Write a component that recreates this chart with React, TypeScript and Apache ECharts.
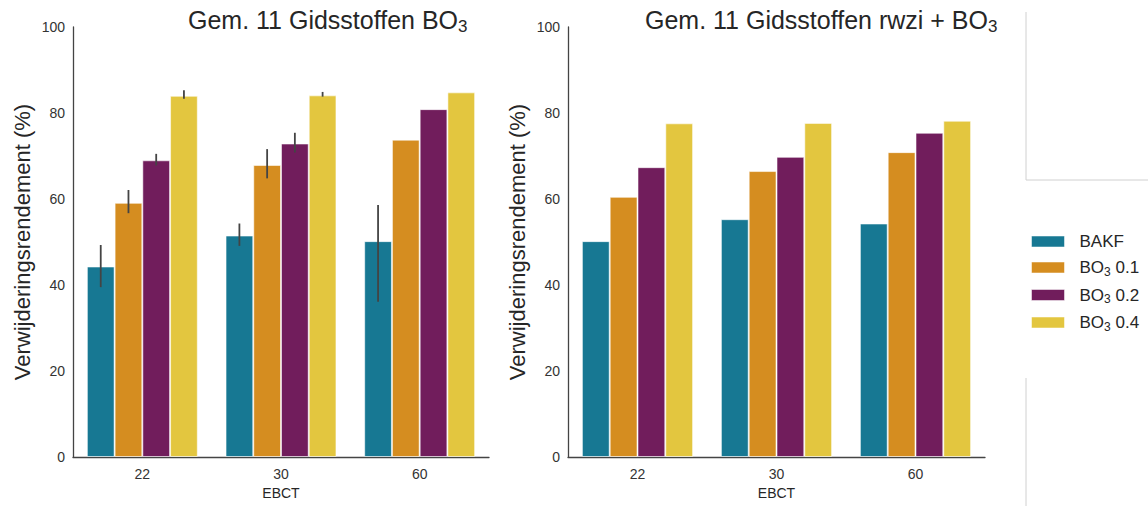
import React, { useEffect, useRef } from "react";
import * as echarts from "echarts";

// EBCT categories and series names
const categories = ["22", "30", "60"];
const seriesNames = ["BAKF", "BO3 0.1", "BO3 0.2", "BO3 0.4"];
const colors = ["#177893", "#d58d20", "#711d5c", "#e3c63f"];

// Left panel: Gem. 11 Gidsstoffen BO3 (mean removal, %)
const bakfLeft = [44.3, 51.5, 50.2];
const bo01Left = [59.1, 67.9, 73.8];
const bo02Left = [69.0, 72.9, 80.9];
const bo04Left = [84.0, 84.1, 84.8];

// Left panel error ranges [low, high] per category (null = none)
const bakfLeftErr = [[39.5, 49.3], [49.1, 54.3], [36.1, 58.6]];
const bo01LeftErr = [[56.7, 62.1], [64.8, 71.6], null];
const bo02LeftErr = [[67.8, 70.5], [70.8, 75.4], null];
const bo04LeftErr = [[83.3, 85.3], [83.8, 84.9], null];

// Right panel: Gem. 11 Gidsstoffen rwzi + BO3
const bakfRight = [50.2, 55.3, 54.3];
const bo01Right = [60.5, 66.5, 70.9];
const bo02Right = [67.4, 69.8, 75.4];
const bo04Right = [77.6, 77.7, 78.2];

// Y axis ticks
const yMin = 0;
const yMax = 100;
const yInterval = 20;

const FONT = "'Liberation Sans', Arial, Helvetica, sans-serif";
const TEXT = "#262626";

export default function App() {
  const ref = useRef<HTMLDivElement>(null);

  useEffect(() => {
    if (!ref.current) return;
    const chart = echarts.init(ref.current, undefined, { renderer: "svg" });

    const leftVals = [bakfLeft, bo01Left, bo02Left, bo04Left];
    const rightVals = [bakfRight, bo01Right, bo02Right, bo04Right];
    const leftErrs = [bakfLeftErr, bo01LeftErr, bo02LeftErr, bo04LeftErr];

    const errData: number[][] = [];
    leftErrs.forEach((arr, s) => {
      arr.forEach((e, c) => {
        if (e) errData.push([c, e[0], e[1], s]);
      });
    });

    const barSeries = (vals: number[][], axisIdx: number) =>
      vals.map((v, i) => ({
        type: "bar",
        name: seriesNames[i],
        xAxisIndex: axisIdx,
        yAxisIndex: axisIdx,
        data: v,
        barGap: "0%",
        barCategoryGap: "20%",
        itemStyle: {
          color: colors[i],
          borderColor: "rgba(255,255,255,0.55)",
          borderWidth: 1,
        },
      }));

    const xAxis = (gridIndex: number) => ({
      type: "category",
      gridIndex,
      data: categories,
      name: "EBCT",
      nameLocation: "middle",
      nameGap: 27,
      nameTextStyle: { fontSize: 14, color: TEXT, fontFamily: FONT },
      axisLine: { lineStyle: { color: "#444", width: 1.3 } },
      axisTick: { show: false },
      axisLabel: { fontSize: 14, color: "#333", margin: 10, fontFamily: FONT },
    });

    const yAxis = (gridIndex: number) => ({
      type: "value",
      gridIndex,
      min: yMin,
      max: yMax,
      interval: yInterval,
      name: "Verwijderingsrendement (%)",
      nameLocation: "middle",
      nameGap: 40,
      nameTextStyle: { fontSize: 22, color: TEXT, fontFamily: FONT },
      axisLine: { show: true, lineStyle: { color: "#444", width: 1.3 } },
      axisTick: { show: false },
      splitLine: { show: false },
      axisLabel: { fontSize: 14, color: "#333", margin: 8, fontFamily: FONT },
    });

    const titleRich = {
      t: { fontSize: 25, lineHeight: 30, color: TEXT, fontFamily: FONT, fontWeight: "normal" },
      s: { fontSize: 17, lineHeight: 20, verticalAlign: "bottom", color: TEXT, fontFamily: FONT, fontWeight: "normal" },
    };

    chart.setOption({
      animation: false,
      backgroundColor: "#ffffff",
      title: [
        {
          text: "{t|Gem. 11 Gidsstoffen BO}{s|3}",
          left: 188,
          top: 5,
          padding: 0,
          textStyle: { fontWeight: "normal", rich: titleRich },
        },
        {
          text: "{t|Gem. 11 Gidsstoffen rwzi + BO}{s|3}",
          left: 645,
          top: 5,
          padding: 0,
          textStyle: { fontWeight: "normal", rich: titleRich },
        },
      ],
      legend: {
        data: seriesNames,
        orient: "vertical",
        left: 1031,
        top: 233,
        padding: 0,
        icon: "rect",
        itemWidth: 33,
        itemHeight: 11,
        itemGap: 9,
        formatter: (name: string) =>
          name.startsWith("BO3")
            ? `{n|BO}{s|3}{n|${name.slice(3)}}`
            : `{n|${name}}`,
        textStyle: {
          padding: [0, 0, 0, 10],
          rich: {
            n: { fontSize: 17, lineHeight: 20, color: TEXT, fontFamily: FONT },
            s: { fontSize: 12, lineHeight: 14, verticalAlign: "bottom", color: TEXT, fontFamily: FONT },
          },
        },
        itemStyle: { borderColor: "rgba(255,255,255,0.5)", borderWidth: 1 },
      },
      grid: [
        { left: 73, top: 27, width: 416, height: 430 },
        { left: 568, top: 27, width: 417, height: 430 },
      ],
      xAxis: [xAxis(0), xAxis(1)],
      yAxis: [yAxis(0), yAxis(1)],
      graphic: [
        { type: "line", shape: { x1: 1026, y1: 12, x2: 1026, y2: 180 }, style: { stroke: "#d0d0d0", lineWidth: 1 } },
        { type: "line", shape: { x1: 1026, y1: 180, x2: 1148, y2: 180 }, style: { stroke: "#d0d0d0", lineWidth: 1 } },
        { type: "line", shape: { x1: 1026, y1: 378, x2: 1026, y2: 506 }, style: { stroke: "#d0d0d0", lineWidth: 1 } },
      ],
      series: [
        ...barSeries(leftVals, 0),
        ...barSeries(rightVals, 1),
        {
          type: "custom",
          name: "err",
          xAxisIndex: 0,
          yAxisIndex: 0,
          z: 5,
          data: errData,
          encode: { x: 0, y: [1, 2] },
          renderItem: (_params: any, api: any) => {
            const c = api.value(0);
            const lo = api.value(1);
            const hi = api.value(2);
            const s = api.value(3);
            const pLo = api.coord([c, lo]);
            const pHi = api.coord([c, hi]);
            const band = api.size([1, 0])[0];
            const bw = (band * 0.8) / 4;
            const x = pLo[0] + (s - 1.5) * bw;
            return {
              type: "line",
              shape: { x1: x, y1: pLo[1], x2: x, y2: pHi[1] },
              style: { stroke: "#444444", lineWidth: 1.8 },
            };
          },
        },
      ],
    });

    return () => chart.dispose();
  }, []);

  return (
    <div
      ref={ref}
      style={{ position: "fixed", left: 0, top: 0, width: 1148, height: 506 }}
    />
  );
}
